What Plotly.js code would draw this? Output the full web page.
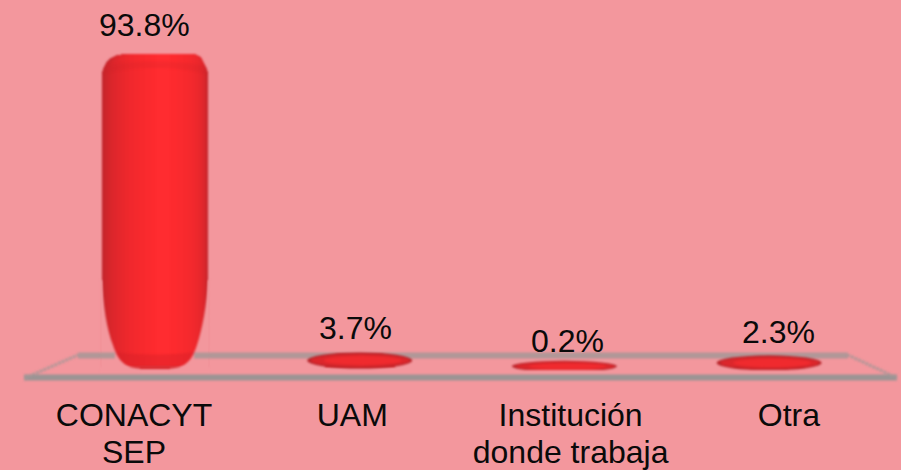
<!DOCTYPE html>
<html><head><meta charset="utf-8">
<script src="https://cdn.plot.ly/plotly-3.0.1.min.js"></script>
<style>html,body{margin:0;padding:0;background:#f3979d}
.barlayer,.shapelayer{filter:blur(0.8px)}</style></head>
<body><div id="c" style="width:901px;height:470px"></div>
<script>
const categories = ["CONACYT SEP", "UAM", "Institución donde trabaja", "Otra"];
const labelLine1 = ["CONACYT", "UAM", "Institución", "Otra"];
const labelLine2 = ["SEP", "", "donde trabaja", ""];
const values = [93.8, 3.7, 0.2, 2.3];
const valueLabels = ["93.8%", "3.7%", "0.2%", "2.3%"];
const labelShiftX = [-11, -4, 3, 9];
const labelBottomPx = [9, 6, 5, 7];
const discHalfPx = [0, 8, 5.5, 7.5];

const W = 901, H = 470, plotH = 370, spacing = 204.7, centre0 = 155;
const BG = '#f3979d', FS = 32, INK = '#0a0a0a', FF = 'Liberation Sans, Arial';
const pxX = p => p / W, pxY = p => 1 - p / plotH;
const dw = p => p / spacing;
const idx = values.map((_, i) => i);
// cylinder shading: [left px, right px, colour, corner radius]
const layers = [
  [102, 208, '#c2242b', 21], [104, 207, '#cc252b', 19], [107, 206, '#d4252b', 17],
  [110, 205, '#da262b', 14], [113, 204, '#df262c', 11], [117, 202, '#e4272c', 9],
  [121, 200, '#e9272c', 6], [125, 198, '#ed282c', 4], [129, 195, '#f1282d', 2],
  [134, 192, '#f4292d', 0], [139, 188, '#f7292d', 0], [145, 183, '#fa2a2e', 0],
  [151, 177, '#fd2a2e', 0], [156, 170, '#ff2c30', 0]
];
const traces = [];
traces.push({type:'bar', x:idx, y:values, xaxis:'x', yaxis:'y', name:'valores', showlegend:false, hoverinfo:'skip',
  text:categories, textposition:'none',
  width:[dw(106), dw(70), dw(70), dw(70)], marker:{color:['#c2242b','#dd262b','#d8242b','#d8262c'], line:{width:0}, cornerradius:21}});
layers.slice(1).forEach(l => {
  traces.push({type:'bar', x:[0], y:[values[0]], xaxis:'x', yaxis:'y', showlegend:false, hoverinfo:'skip',
    width:[dw(l[1]-l[0])], offset:[dw(l[0]-centre0)], marker:{color:l[2], line:{width:0}, cornerradius:l[3]}});
});
// invisible traces that carry the two lines of category labels
traces.push({type:'scatter', mode:'none', x:idx, y:values.map(()=>0), xaxis:'x2', yaxis:'y', showlegend:false, hoverinfo:'skip'});
traces.push({type:'scatter', mode:'none', x:idx, y:values.map(()=>0), xaxis:'x3', yaxis:'y', showlegend:false, hoverinfo:'skip'});

const P = (x,y) => pxX(x).toFixed(4)+','+pxY(y).toFixed(4);
const shapes = [];
const pathShape = (d, fill) => shapes.push({type:'path',xref:'paper',yref:'paper',layer:'above',line:{width:0},fillcolor:fill,path:d});
const line = (x0,y0,x1,y1,c,w,dash) => shapes.push({type:'line',xref:'paper',yref:'paper',x0:pxX(x0),x1:pxX(x1),y0:pxY(y0),y1:pxY(y1),line:{color:c,width:w,dash:dash||'solid'},layer:'above'});
// cylinder top and bottom shading
pathShape(`M${P(104,74)} C${P(130,66)} ${P(180,66)} ${P(206,74)} L${P(204,66)} C${P(180,60)} ${P(130,60)} ${P(106,66)} Z`, 'rgba(200,28,36,0.16)');
pathShape(`M${P(104,350)} C${P(130,356)} ${P(180,356)} ${P(206,350)} L${P(206,369)} L${P(104,369)} Z`, 'rgba(205,30,38,0.35)');
pathShape(`M${P(104,366)} L${P(206,366)} L${P(206,369)} L${P(104,369)} Z`, '#d8252b');
// corner masks giving the rounded foot of the cylinder
pathShape(`M${P(100,280)} L${P(102,280)} C${P(103,305)} ${P(107,330)} ${P(113,345)} C${P(117,357)} ${P(122,368)} ${P(140,368.5)} L${P(140,372)} L${P(100,372)} Z`, BG);
pathShape(`M${P(210,280)} L${P(208,280)} C${P(207,305)} ${P(202,330)} ${P(197,345)} C${P(193,357)} ${P(188,368)} ${P(170,368.5)} L${P(170,372)} L${P(210,372)} Z`, BG);
// floor frame
const G = 'rgba(165,150,150,0.85)', G2 = 'rgba(150,148,148,0.95)';
line(78,355.5,115,355.5,G,6); line(194,355.5,848,355.5,G,6);
line(24,377.5,897,377.5,G2,6);
line(25,378,78,355,G,3,'3px,1px');
line(897,378,848,355,G,3,'3px,1px');
// discs for the small values, anchored on their values
values.forEach((v,i)=>{
  const h = discHalfPx[i];
  if(!h) return;
  const disc = (l,r,k,c) => shapes.push({type:'circle',xref:'x',yref:'y',ysizemode:'pixel',yanchor:v/2,x0:i-dw(l),x1:i+dw(r),y0:-h*k,y1:h*k,fillcolor:c,line:{width:0},layer:'above'});
  disc(52.5,52.5,1,'#b8242a');
  disc(49,50,0.8,'#dc262b');
  disc(36,42,0.55,'#f02a2e');
});
const annotations = values.map((v,i)=>({xref:'x',yref:'y',x:i,y:v,text:valueLabels[i],showarrow:false,xshift:labelShiftX[i],
  yanchor:'bottom',yshift:labelBottomPx[i],font:{family:FF,size:FS,color:INK}}));

const labelAxis = (texts, standoff) => ({type:'linear',overlaying:'x',side:'bottom',anchor:'y',range:[-134/218.3,(W-134)/218.3],
  tickmode:'array',tickvals:idx,ticktext:texts,showgrid:false,zeroline:false,showline:false,ticks:'',ticklabelstandoff:standoff,tickangle:0,
  tickfont:{family:FF,size:FS,color:INK},fixedrange:true});
const layout = {
  width:W,height:H,margin:{l:0,r:0,t:0,b:H-plotH,pad:0},paper_bgcolor:BG,plot_bgcolor:BG,
  barmode:'overlay',bargap:0,showlegend:false,shapes,annotations,
  font:{family:FF,size:FS,color:INK},
  xaxis:{type:'linear',range:[-centre0/spacing,(W-centre0)/spacing],showticklabels:false,showgrid:false,zeroline:false,showline:false,ticks:'',fixedrange:true},
  xaxis2:labelAxis(labelLine1,23),
  xaxis3:labelAxis(labelLine2,60),
  yaxis:{range:[-1,110.1],visible:false,fixedrange:true}
};
Plotly.newPlot('c',traces,layout,{displayModeBar:false,staticPlot:true});
</script></body></html>
